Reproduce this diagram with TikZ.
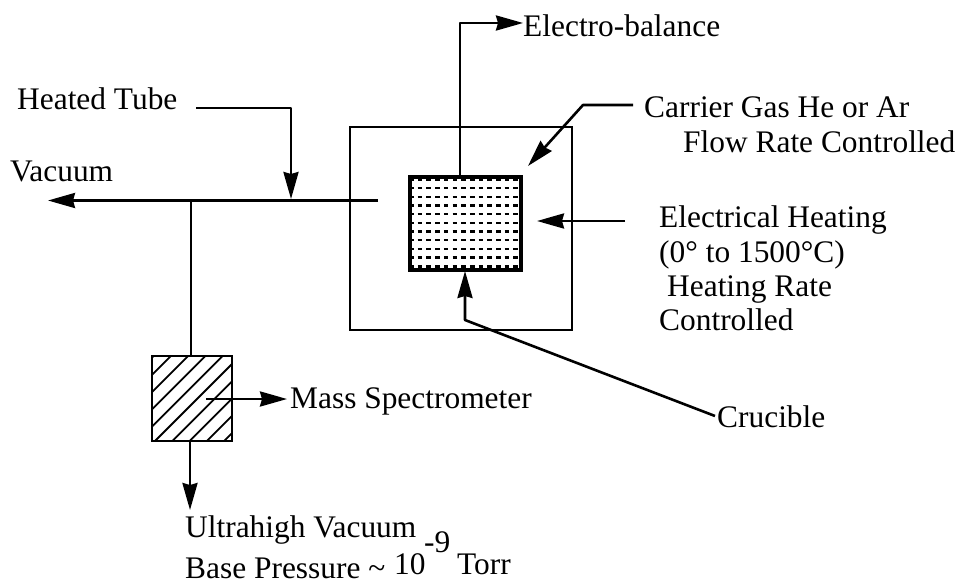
\documentclass[tikz,border=0pt]{standalone}
\usepackage{fontspec}
\setmainfont{Liberation Serif}
\usetikzlibrary{arrows.meta}
\begin{document}
\begin{tikzpicture}[x=1pt,y=-1pt,
  wire/.style={line width=2.6pt,line join=round},
  arr/.style={wire,-{Stealth[length=27pt,width=15pt,inset=2pt]}},
  box/.style={draw,line width=2.7pt,inner sep=0pt,outer sep=0pt,anchor=north west},
  lab/.style={font=\fontsize{31.4}{36}\selectfont,inner sep=0pt,anchor=base west,text=black}]
\useasboundingbox (0,0) rectangle (961,583);
\fill[white] (0,0) rectangle (961,583);
% boxes
\node[box,minimum width=222pt,minimum height=203pt] (furnace) at (350,127) {};
\begin{scope}
\clip (410,177) rectangle (521,270);
\foreach \k in {0,...,10}
  \draw[line width=2.4pt,dash pattern=on 4.6pt off 4.1pt,dash phase=1pt] (410,179.6+8.67*\k) -- (521,179.6+8.67*\k);
\end{scope}
\node[box,line width=3.4pt,minimum width=111pt,minimum height=93pt] (crucible) at (410,177) {};
\begin{scope}
\clip (152,356) rectangle (232,441);
\foreach \k in {-6,...,5}
  \draw[line width=1.8pt] (155+\k*17.3,441) -- (155+\k*17.3+95,346);
\end{scope}
\node[box,minimum width=80pt,minimum height=85pt] (ms) at (152,356) {};
% labels
\node[lab] (electro) at (523,37) {Electro-balance};
\node[lab] (carrier) at (644,118) {Carrier Gas He or Ar};
\node[lab] (flow) at (683,153) {Flow Rate Controlled};
\node[lab] (heated) at (17,110) {Heated Tube};
\node[lab] (vacuum) at (10,181) {Vacuum};
\node[lab] (elec) at (659,227) {Electrical Heating};
\node[lab] (range) at (659,262) {(0° to 1500°C)};
\node[lab] (rate) at (667,296) {Heating Rate};
\node[lab] (ctrl) at (659,330) {Controlled};
\node[lab] (crlab) at (717,427) {Crucible};
\node[lab] (mslab) at (290,408) {Mass Spectrometer};
\node[lab] (uhv) at (185,537) {Ultrahigh Vacuum};
\node[lab] (base) at (185,578) {Base Pressure {\char"7E}};
\node[lab] (ten) at (394,574) {10};
\node[lab] (minus) at (424,552) {-9};
\node[lab] (torr) at (457,574) {Torr};
% free ends
\coordinate (e1) at (460,23);
\coordinate (e2) at (523,23);
\coordinate (c1) at (633,105);
\coordinate (c2) at (583,105);
\coordinate (c3) at (528,166);
\coordinate (h1) at (196,108);
\coordinate (h2) at (291,108);
\coordinate (h3) at (291,199);
\coordinate (v1) at (378,200.5);
\coordinate (v2) at (48,200.5);
\coordinate (j) at (191,200.5);
\coordinate (q1) at (625,221);
\coordinate (q2) at (537,221);
\coordinate (r1) at (715,416);
\coordinate (r2) at (465,320);
\coordinate (r3) at (465,271);
\coordinate (m1) at (206,399);
\coordinate (m2) at (287,399);
\coordinate (b1) at (190,510);
% connectors
\draw[arr] (crucible.north -| e1) -- (e1) -- (e2);
\draw[arr] (c1) -- (c2) -- (c3);
\draw[arr] (h1) -- (h2) -- (h3);
\draw[arr] (v1) -- (v2);
\draw[wire] (j) -- (ms.north -| j);
\draw[arr] (ms.south -| b1) -- (b1);
\draw[arr] (m1) -- (m2);
\draw[arr] (q1) -- (q2);
\draw[arr] (r1) -- (r2) -- (r3);
\end{tikzpicture}
\end{document}
